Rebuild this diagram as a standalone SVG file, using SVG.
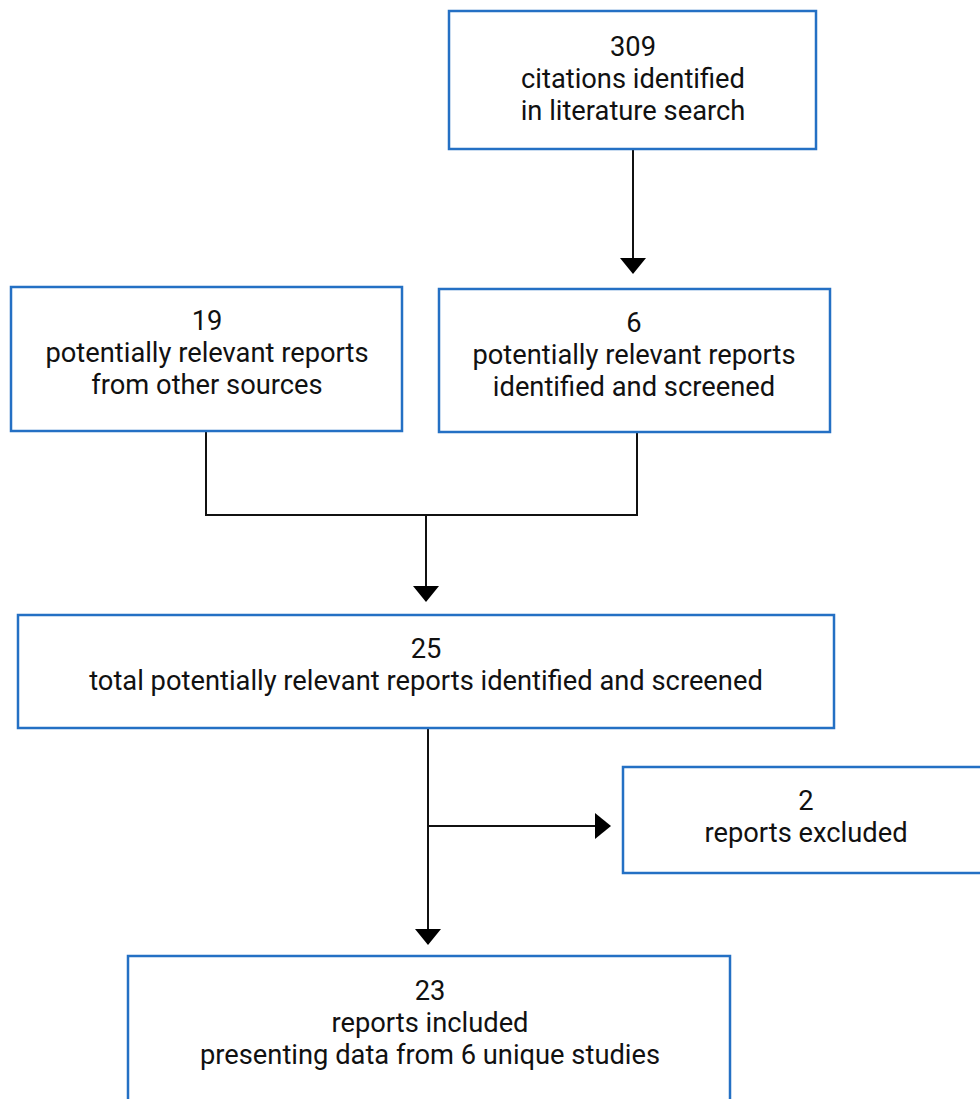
<svg xmlns="http://www.w3.org/2000/svg" width="980" height="1099" viewBox="0 0 980 1099">
<style>
.box{fill:#fff;stroke:#2470c4;stroke-width:2.5}
.t{font-family:Roboto,"Liberation Sans",sans-serif;font-size:27.3px;fill:#111;text-anchor:middle}
.c{fill:none;stroke:#111;stroke-width:2}
</style>
<defs>
<marker id="ah" viewBox="0 0 16 26" refX="15" refY="13" markerWidth="16" markerHeight="26" markerUnits="userSpaceOnUse" orient="auto">
<path d="M0,0 L16,13 L0,26 Z" fill="#000"/>
</marker>
</defs>
<rect width="980" height="1099" fill="#fff"/>
<g id="connectors">
<path class="c" d="M633,150 V273" marker-end="url(#ah)"/>
<path class="c" d="M206,431 V515 H637 V432"/>
<path class="c" d="M426,515 V601" marker-end="url(#ah)"/>
<path class="c" d="M428,728 V944" marker-end="url(#ah)"/>
<path class="c" d="M428,826 H610" marker-end="url(#ah)"/>
</g>
<g id="n309">
<rect class="box" x="449" y="11" width="367" height="138"/>
<text class="t" x="633" y="56">309</text>
<text class="t" x="633" y="88">citations identified</text>
<text class="t" x="633" y="120">in literature search</text>
</g>
<g id="n19">
<rect class="box" x="11" y="287" width="391" height="144"/>
<text class="t" x="207" y="330">19</text>
<text class="t" x="207" y="362">potentially relevant reports</text>
<text class="t" x="207" y="394">from other sources</text>
</g>
<g id="n6">
<rect class="box" x="439" y="289" width="391" height="143"/>
<text class="t" x="634" y="332">6</text>
<text class="t" x="634" y="364">potentially relevant reports</text>
<text class="t" x="634" y="396">identified and screened</text>
</g>
<g id="n25">
<rect class="box" x="18" y="615" width="816" height="113"/>
<text class="t" x="426" y="658">25</text>
<text class="t" x="426" y="690">total potentially relevant reports identified and screened</text>
</g>
<g id="n2">
<rect class="box" x="623" y="767" width="360" height="106"/>
<text class="t" x="806" y="810">2</text>
<text class="t" x="806" y="842">reports excluded</text>
</g>
<g id="n23">
<rect class="box" x="128" y="956" width="602" height="150"/>
<text class="t" x="430" y="1000">23</text>
<text class="t" x="430" y="1032">reports included</text>
<text class="t" x="430" y="1064">presenting data from 6 unique studies</text>
</g>
</svg>
